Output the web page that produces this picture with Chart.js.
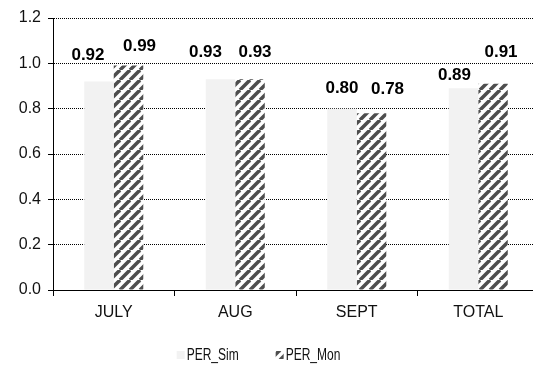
<!DOCTYPE html>
<html>
<head>
<meta charset="utf-8">
<script src="https://cdn.jsdelivr.net/npm/chart.js@4/dist/chart.umd.min.js"></script>
<style>
  html, body { margin: 0; padding: 0; overflow: hidden; background: #fff; }
  #wrap { width: 539px; height: 365px; }
</style>
</head>
<body>
<div id="wrap"><canvas id="c" width="539" height="365"></canvas></div>
<script>
// Performance ratios per month
const categories = ['JULY', 'AUG', 'SEPT', 'TOTAL'];
const perSim = [0.92, 0.93, 0.80, 0.89];
const perMon = [0.99, 0.93, 0.78, 0.91];
const yTicks = [0.0, 0.2, 0.4, 0.6, 0.8, 1.0, 1.2];
const seriesNames = ['PER_Sim', 'PER_Mon'];

// Diagonal hatch used for the monitored series
function makeHatch() {
  const s = 10;
  const c = document.createElement('canvas');
  c.width = s; c.height = s;
  const g = c.getContext('2d');
  g.fillStyle = '#ffffff';
  g.fillRect(0, 0, s, s);
  g.strokeStyle = '#4e4e4e';
  g.lineWidth = 3.5;
  for (const o of [-s, 0, s]) {
    g.beginPath();
    g.moveTo(o, s);
    g.lineTo(o + s, 0);
    g.stroke();
  }
  return g.createPattern(c, 'repeat');
}
const hatch = makeHatch();

// Value labels above the bars, nudged sideways/up as in the report layout
const labelNudge = [
  [[-11, 26], [-15, 27], [0, 20], [-9, 13]],
  [[11, 19], [5, 27], [16, 24], [8, 31]]
];
const valueLabels = {
  id: 'valueLabels',
  afterDatasetsDraw(chart) {
    const ctx = chart.ctx;
    ctx.save();
    ctx.font = 'bold 17px "Liberation Sans", Arial, sans-serif';
    ctx.fillStyle = '#000';
    ctx.textAlign = 'center';
    ctx.textBaseline = 'middle';
    chart.data.datasets.forEach((ds, di) => {
      const meta = chart.getDatasetMeta(di);
      meta.data.forEach((bar, i) => {
        const [dx, dy] = labelNudge[di][i];
        ctx.fillText(ds.data[i].toFixed(2), bar.x + dx, bar.y - dy);
      });
    });
    ctx.restore();
  }
};

// Compact legend centred under the plot, set in a condensed face
const bottomLegend = {
  id: 'bottomLegend',
  afterDraw(chart) {
    const ctx = chart.ctx;
    ctx.save();
    ctx.font = '16px "Liberation Sans", Arial, sans-serif';
    ctx.textBaseline = 'middle';
    ctx.textAlign = 'left';
    const squeeze = 0.75;
    const box = 8, gap = 2, itemGap = 37;
    const items = chart.data.datasets.map(ds => ({
      text: ds.label, fill: ds.backgroundColor,
      tw: ctx.measureText(ds.label).width * squeeze
    }));
    const total = items.reduce((a, it) => a + box + gap + it.tw, 0) + itemGap * (items.length - 1);
    let x = 258.5 - total / 2;
    const y = 355;
    items.forEach(it => {
      ctx.fillStyle = it.fill;
      ctx.fillRect(x, y - box / 2, box, box);
      ctx.fillStyle = '#111';
      ctx.save();
      ctx.translate(x + box + gap, y + 1);
      ctx.scale(squeeze, 1);
      ctx.fillText(it.text, 0, 0);
      ctx.restore();
      x += box + gap + it.tw + itemGap;
    });
    ctx.restore();
  }
};

new Chart(document.getElementById('c'), {
  type: 'bar',
  data: {
    labels: categories,
    datasets: [
      { label: seriesNames[0], data: perSim, backgroundColor: '#f2f2f2', borderWidth: 0 },
      { label: seriesNames[1], data: perMon, backgroundColor: hatch, borderWidth: 0 }
    ]
  },
  options: {
    responsive: false,
    animation: false,
    devicePixelRatio: 1,
    layout: { padding: { top: 18, left: 0, right: 0, bottom: 35 } },
    datasets: { bar: { categoryPercentage: 0.486, barPercentage: 1.0 } },
    plugins: { legend: { display: false }, tooltip: { enabled: false } },
    scales: {
      x: {
        afterFit(scale) { scale.height = 40; },
        grid: { drawOnChartArea: false, drawTicks: true, tickLength: 6, color: '#000', tickColor: '#000' },
        border: { display: true, color: '#000', width: 1 },
        ticks: { color: '#111', padding: 7, font: { family: '"Liberation Sans", Arial, sans-serif', size: 16 } }
      },
      y: {
        min: 0, max: 1.2,
        afterFit(scale) { scale.width = 53; },
        afterBuildTicks(scale) { scale.ticks = yTicks.map(v => ({ value: v })); },
        grid: { color: '#000', tickColor: '#000', tickLength: 5, drawTicks: true },
        border: { display: true, color: '#000', width: 1, dash: [1, 1] },
        ticks: {
          color: '#111', padding: 7,
          font: { family: '"Liberation Sans", Arial, sans-serif', size: 16 },
          callback: v => Number(v).toFixed(1)
        }
      }
    }
  },
  plugins: [valueLabels, bottomLegend]
});
</script>
</body>
</html>
